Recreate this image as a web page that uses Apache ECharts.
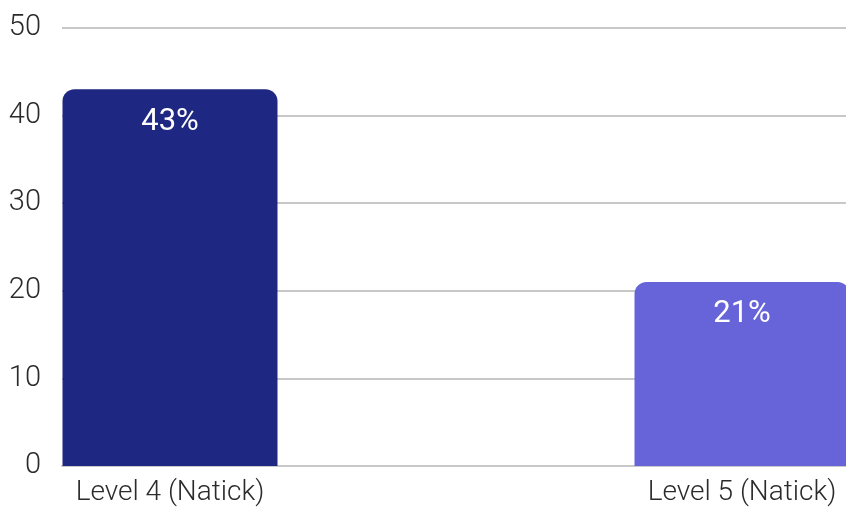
<!DOCTYPE html>
<html>
<head>
<meta charset="utf-8">
<script src="https://cdn.jsdelivr.net/npm/echarts@6/dist/echarts.min.js"></script>
<style>html,body{margin:0;padding:0;background:#fff}#c{width:846px;height:508px}</style>
</head>
<body>
<div id="c"></div>
<script>
const categories = ['Level 4 (Natick)', 'Level 5 (Natick)'];
const values = [43, 21];
const valueLabels = ['43%', '21%'];
const barColors = ['#1e2782', '#6764d9'];
const yTicks = [0, 10, 20, 30, 40, 50];

const chart = echarts.init(document.getElementById('c'), null, {renderer: 'canvas'});
const axisFont = 'Roboto, "Noto Sans", sans-serif';
chart.setOption({
  animation: false,
  grid: [
    {left: 62, right: 0, top: 28, bottom: 42},
    {left: 170, right: 104, top: 28, bottom: 42}
  ],
  xAxis: [
    {gridIndex: 0, type: 'category', data: categories, boundaryGap: false,
     axisLine: {show: true, lineStyle: {color: '#c8c8c8', width: 2}},
     axisTick: {show: false}, axisLabel: {show: false}, splitLine: {show: false}},
    {gridIndex: 1, type: 'category', data: categories, boundaryGap: false,
     axisLine: {show: false}, axisTick: {show: false},
     axisLabel: {show: true, color: '#2b2b2b', fontFamily: axisFont, fontWeight: 300, fontSize: 28, margin: 13, interval: 0}}
  ],
  yAxis: [
    {gridIndex: 0, type: 'value', min: yTicks[0], max: yTicks[yTicks.length-1], interval: 10,
     axisLine: {show: false}, axisTick: {show: false},
     axisLabel: {color: '#2b2b2b', fontFamily: axisFont, fontWeight: 300, fontSize: 29, margin: 21},
     splitLine: {lineStyle: {color: '#c8c8c8', width: 2}}},
    {gridIndex: 1, type: 'value', min: yTicks[0], max: yTicks[yTicks.length-1], interval: 10, show: false,
     splitLine: {show: false}}
  ],
  series: [{
    type: 'bar', xAxisIndex: 1, yAxisIndex: 1, clip: false,
    barWidth: 215,
    data: values.map((v, i) => ({value: v, itemStyle: {color: barColors[i], borderRadius: [12, 12, 0, 0]}})),
    label: {show: true, position: 'insideTop', distance: 17, color: '#fff',
      fontFamily: 'Roboto, sans-serif', fontSize: 31,
      formatter: p => valueLabels[p.dataIndex]}
  }]
});
</script>
</body>
</html>
